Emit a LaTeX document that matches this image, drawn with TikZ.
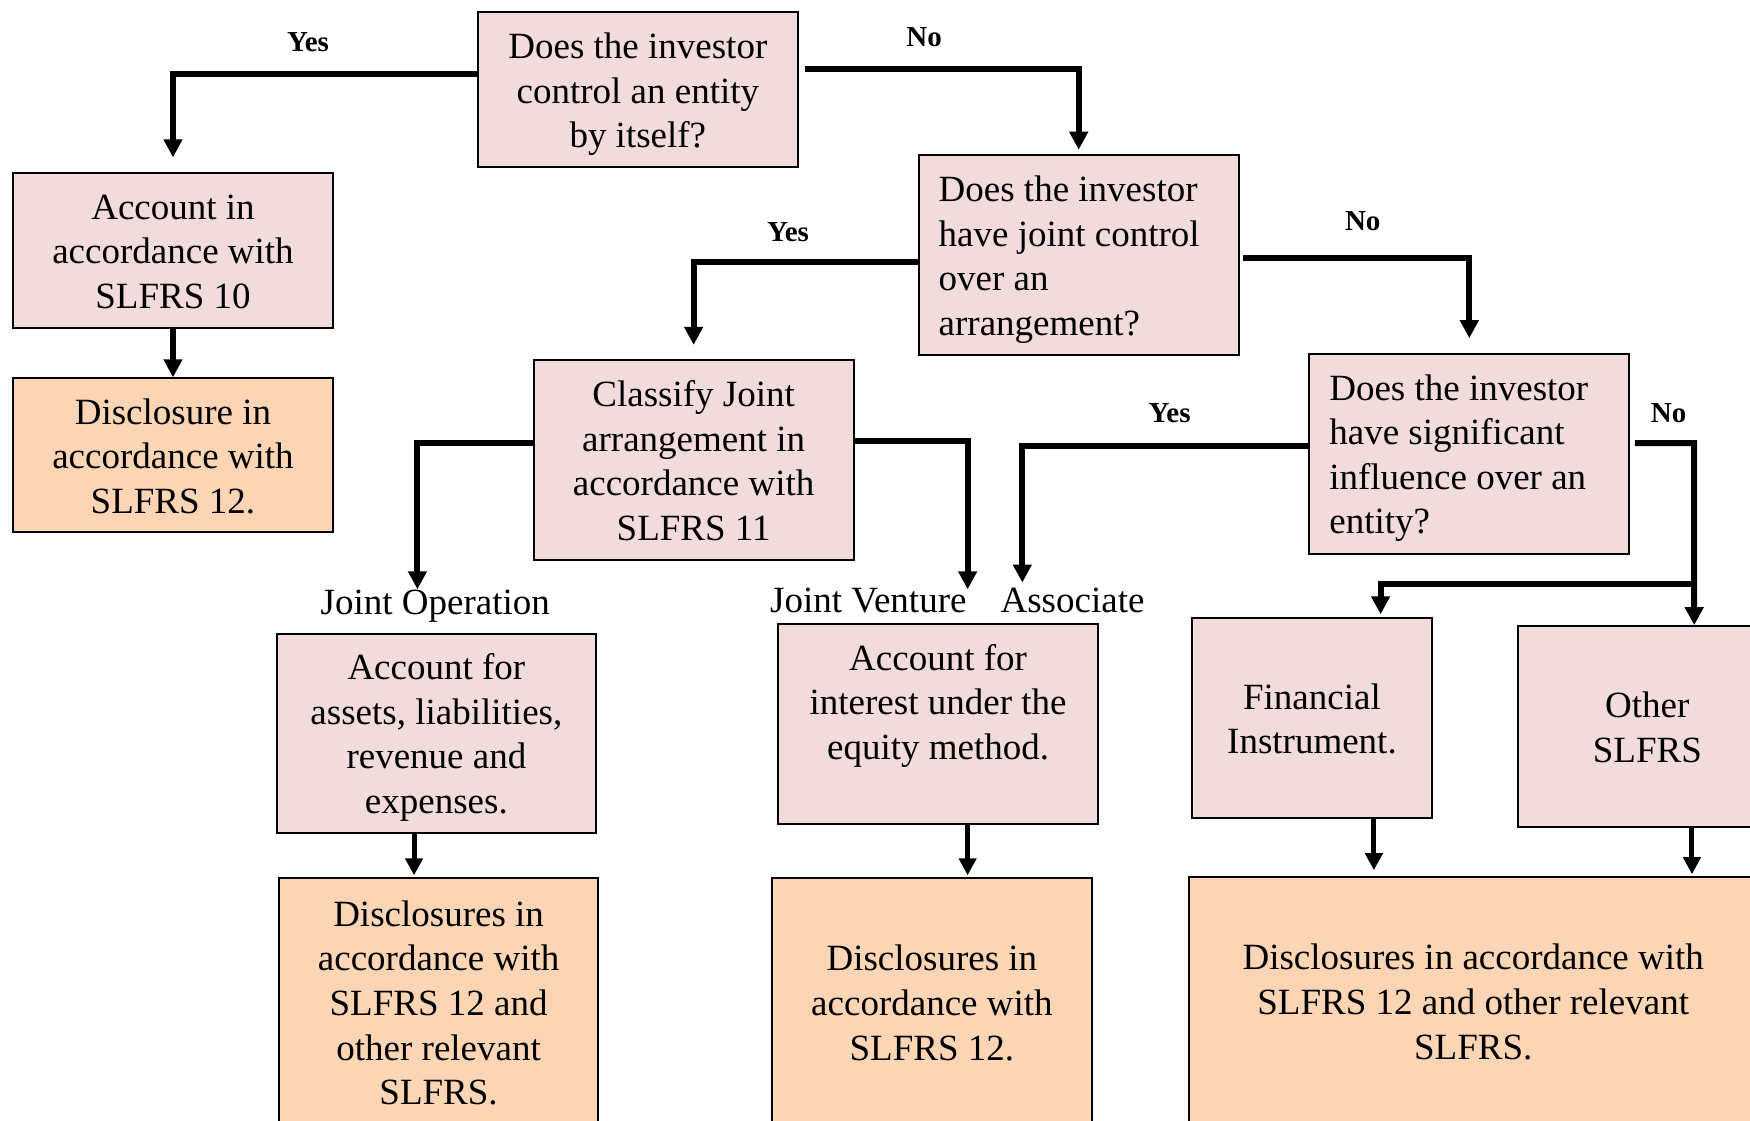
\documentclass[tikz,border=0pt]{standalone}
\usepackage{fontspec}
\setmainfont{Liberation Serif}
\usetikzlibrary{arrows.meta,calc}
\definecolor{qpink}{RGB}{242,220,219}
\definecolor{qorange}{RGB}{252,213,181}
% fixed first-line height so every box sets its lines the same way
\newcommand\toprule{\rule{0pt}{13.3pt}}

\begin{document}
\begin{tikzpicture}[x=0.558pt,y=-0.558pt,
  base/.style={draw=black, line width=1pt, inner sep=0pt, align=center,
               font=\fontsize{18.5}{22.3}\selectfont},
  qbox/.style={base, fill=qpink},
  dbox/.style={base, fill=qorange},
  lbox/.style={qbox, align=flush left, text width=140pt},
  yn/.style={font=\fontsize{14.5}{17}\selectfont\bfseries, inner sep=0pt},
  tag/.style={font=\fontsize{18.5}{22.3}\selectfont, inner sep=0pt},
  conn/.style={line width=3pt, -{Triangle[length=9pt,width=9pt]}},
  down/.style={line width=2.5pt, -{Triangle[length=8.5pt,width=8.5pt]}},
]
\useasboundingbox (0,0) rectangle (1568,1004);
\clip (0,0) rectangle (1568,1004);

% decision and action boxes
\node[qbox, minimum width=160.1pt, minimum height=77.6pt] (ctrl) at (571.5,80.5)
  {\toprule Does the investor\\control an entity\\\smash{by itself?}};
\node[qbox, minimum width=159.6pt, minimum height=77.6pt] (sub) at (155,224.5)
  {\toprule Account in\\accordance with\\\smash{SLFRS 10}};
\node[dbox, minimum width=159.6pt, minimum height=77.0pt] (subd) at (155,408)
  {\toprule Disclosure in\\accordance with\\\smash{SLFRS 12.}};
\node[lbox, minimum width=160.1pt, minimum height=99.9pt] (joint) at (966.5,228.5)
  {\toprule Does the investor\\have joint control\\over an\\\smash{arrangement?}};
\node[qbox, minimum width=160.1pt, minimum height=99.9pt] (cls) at (621.5,412.5)
  {\toprule Classify Joint\\arrangement in\\accordance with\\\smash{SLFRS 11}};
\node[lbox, minimum width=160.1pt, minimum height=99.9pt] (sig) at (1316.5,406.5)
  {\toprule Does the investor\\have significant\\influence over an\\\smash{entity?}};
\node[qbox, minimum width=159.6pt, minimum height=99.3pt] (jop) at (391,657)
  {\toprule Account for\\assets, liabilities,\\revenue and\\\smash{expenses.}};
\node[qbox, minimum width=160.1pt, minimum height=99.9pt] (eq) at (840.5,648.5)
  {\toprule Account for\\interest under the\\equity method.\\\mbox{}};
\node[qbox, minimum width=120.0pt, minimum height=99.9pt] (fin) at (1175.5,643.5)
  {\toprule Financial\\\smash{Instrument.}};
\node[qbox, minimum width=129.5pt, minimum height=100.4pt] (oth) at (1476,651)
  {\toprule Other\\\smash{SLFRS}};
\node[dbox, minimum width=159.6pt, minimum height=123.9pt] (jopd) at (393,898)
  {\toprule Disclosures in\\accordance with\\SLFRS 12 and\\other relevant\\\smash{SLFRS.}};
\node[dbox, minimum width=159.6pt, minimum height=123.9pt] (eqd) at (835,898)
  {\toprule Disclosures in\\accordance with\\\smash{SLFRS 12.}};
\node[dbox, minimum width=284.6pt, minimum height=123.9pt] (restd) at (1320,897)
  {\toprule Disclosures in accordance with\\SLFRS 12 and other relevant\\\smash{SLFRS.}};

% branch labels
\node[yn] (y1) at (276,38) {Yes};
\node[yn] (n1) at (828,33) {No};
\node[yn] (y2) at (706,208) {Yes};
\node[yn] (n2) at (1221,198) {No};
\node[yn] (y3) at (1048,370) {Yes};
\node[yn] (n3) at (1495,370) {No};
\node[tag] (jo) at (390,543) {Joint Operation};
\node[tag] (jv) at (778,538) {Joint Venture};
\node[tag] (as) at (961,538) {Associate};

% connector end points
\coordinate (joIn) at (374,528);
\coordinate (jvIn) at (867,528);
\coordinate (asIn) at (916,522);
\coordinate (noBend) at (1518,397);
\coordinate (fork) at (1518,523);
\coordinate (finX) at (1237,0);
\coordinate (c1) at (371,0);
\coordinate (c2) at (867,0);
\coordinate (c3) at (1231,0);
\coordinate (c4) at (1516,0);

% decision flow
\draw[conn, shorten >=7.3pt] ([yshift=8.1pt]ctrl.west) -| (sub.north);
\draw[conn, shorten <=2.8pt, shorten >=2.2pt] ([yshift=10.3pt]ctrl.east) -| (joint.north);
\draw[conn] (sub.south) -- (subd.north);
\draw[conn, shorten >=7.3pt] ([yshift=-3.6pt]joint.west) -| (cls.north);
\draw[conn, shorten <=1.7pt, shorten >=7.3pt] ([yshift=-1.4pt]joint.east) -| (sig.north);
\draw[conn] ([yshift=8.6pt]cls.west) -| (joIn);
\draw[conn] ([yshift=9.8pt]cls.east) -| (jvIn);
\draw[conn] ([yshift=3.6pt]sig.west) -| (asIn);
\draw[conn, shorten <=2.2pt] ([yshift=5.3pt]sig.east) -- (noBend) -- (noBend |- oth.north);
\draw[conn, shorten >=1.5pt] (fork) -| (finX |- fin.north);

% disclosure arrows
\draw[down, shorten >=1pt] (c1 |- jop.south) -- (c1 |- jopd.north);
\draw[down, shorten >=1pt] (c2 |- eq.south) -- (c2 |- eqd.north);
\draw[down, shorten >=3pt] (c3 |- fin.south) -- (c3 |- restd.north);
\draw[down, shorten >=1pt] (c4 |- oth.south) -- (c4 |- restd.north);
\end{tikzpicture}
\end{document}
